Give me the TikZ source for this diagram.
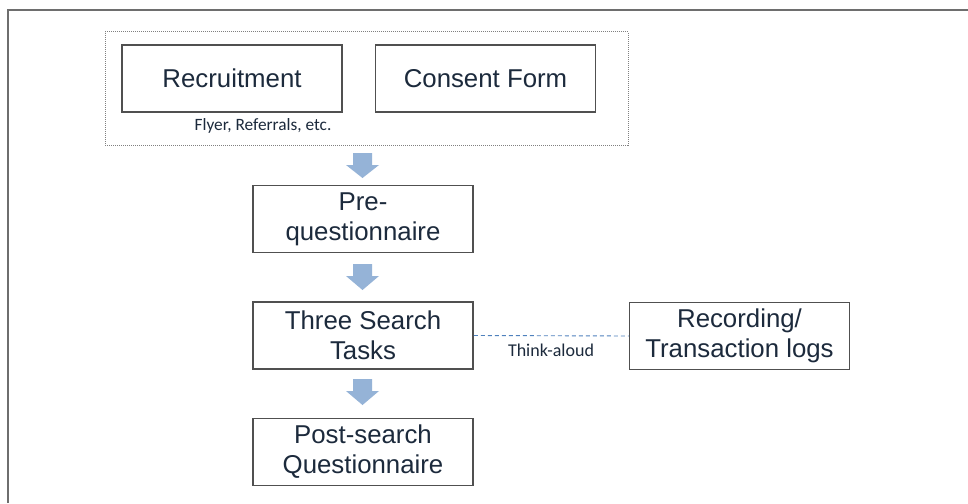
\documentclass[tikz,border=0pt]{standalone}
\usepackage{fontspec}
\setmainfont{Liberation Sans}
\newfontfamily\notefont{Carlito}
\definecolor{inkcol}{HTML}{1C2A3C}
\definecolor{edgecol}{HTML}{505050}
\definecolor{flowcol}{HTML}{95B3D7}
\definecolor{linkcol}{HTML}{4F81BD}
\definecolor{framecol}{HTML}{6E6E6E}
\tikzset{
  stepbox/.style={draw=edgecol, line width=1.5pt, minimum width=220pt, minimum height=67pt,
    align=center, text=inkcol, font=\fontsize{25.8}{30}\selectfont, inner sep=0pt},
  note/.style={text=inkcol, font=\notefont\fontsize{17.3}{19}\selectfont, inner sep=0pt},
}
\newcommand{\flowdown}[2]{% shaft-and-head block arrow between two y positions
  \fill[flowcol] (353,#1) -- (372,#1) -- (372,#1+12) -- (379,#1+12) -- (362.5,#2) -- (346,#1+12) -- (353,#1+12) -- cycle;}
\begin{document}
\begin{tikzpicture}[x=1pt,y=-1pt]
  \useasboundingbox (0,0) rectangle (968,503);
  \fill[white] (0,0) rectangle (968,503);
  % page frame
  \draw[framecol, line width=1.8pt] (8,503) -- (8,10) -- (968,10);
  % grouped first step
  \node[draw=gray, densely dotted, line width=1pt, minimum width=523pt, minimum height=113pt, inner sep=0pt] (group) at (366.5,88.5) {};
  \node[stepbox] (recruit) at (232,78.5) {Recruitment};
  \node[stepbox] (consent) at (485.5,78.5) {Consent Form};
  \node[note] (flyer) at (263,126) {Flyer, Referrals, etc.};
  % main sequence
  \node[stepbox] (pre) at (363,219) {Pre-\\questionnaire};
  \node[stepbox] (tasks) at (363,335.5) {Three Search\\Tasks};
  \node[stepbox] (post) at (363,452) {Post-search\\Questionnaire};
  \node[stepbox] (logs) at (739.5,336) {Recording/\\Transaction logs};
  % block arrows between steps
  \flowdown{153}{178}
  \flowdown{264}{290}
  \flowdown{379}{405}
  % think-aloud link
  \draw[linkcol, line width=0.9pt, dash pattern=on 4pt off 3pt] (tasks.east) -- (logs.west);
  \node[note, font=\notefont\fontsize{18}{20}\selectfont] (think) at (551,350) {Think-aloud};
\end{tikzpicture}
\end{document}
